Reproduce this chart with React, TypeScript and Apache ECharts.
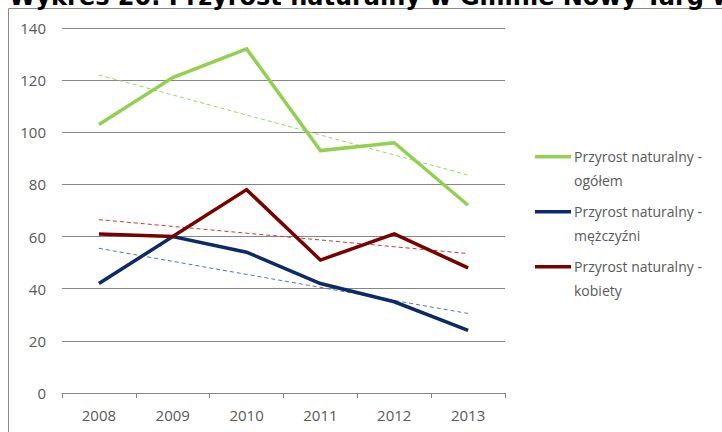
import React, { useEffect, useRef } from "react";
import * as echarts from "echarts";

const years = ["2008", "2009", "2010", "2011", "2012", "2013"];
const ogolem = [103, 121, 132, 93, 96, 72];
const mezczyzni = [42, 60, 54, 42, 35, 24];
const kobiety = [61, 60, 78, 51, 61, 48];
// trend line end values (2008, 2013)
const trendOgolem = [122, 83.6];
const trendMezczyzni = [55.5, 30.5];
const trendKobiety = [66.5, 53.5];

const names = [
  "Przyrost naturalny - ogółem",
  "Przyrost naturalny - mężczyźni",
  "Przyrost naturalny - kobiety",
];
const title = "Wykres 20. Przyrost naturalny w Gminie Nowy Targ w";

const FONT = "Open Sans";
const legendIcon = "path://M0,0H36V3.6H0Z M0,27H0.05V26.95H0Z";

export default function App() {
  const ref = useRef<HTMLDivElement>(null);
  useEffect(() => {
    if (!ref.current) return;
    const chart = echarts.init(ref.current, undefined, { renderer: "svg" });
    const trend = (name: string, vals: number[], color: string) => ({
      name,
      type: "line",
      data: [
        [years[0], vals[0]],
        [years[years.length - 1], vals[1]],
      ],
      symbol: "none",
      silent: true,
      z: 1,
      lineStyle: { color, width: 1, type: [4, 3] },
    });
    const main = (name: string, vals: number[], color: string) => ({
      name,
      type: "line",
      data: vals,
      symbol: "none",
      z: 3,
      itemStyle: { color },
      lineStyle: { color, width: 3.5, join: "miter" },
    });
    chart.setOption({
      animation: false,
      backgroundColor: "#ffffff",
      graphic: [
        {
          type: "rect",
          shape: { x: 8.5, y: 8.5, width: 800, height: 500 },
          style: { fill: "none", stroke: "#8a8a8a", lineWidth: 1 },
          z: 0,
        },
        {
          type: "text",
          x: 9,
          y: 9,
          z: 5,
          style: {
            text: title,
            font: "bold 24px 'DejaVu Sans'",
            fill: "#000000",
            verticalAlign: "bottom",
            align: "left",
          },
        },
      ],
      grid: { left: 62, top: 28, width: 443, height: 365 },
      xAxis: {
        type: "category",
        data: years,
        boundaryGap: true,
        axisLine: { lineStyle: { color: "#868686", width: 1 } },
        axisTick: { show: true, length: 5, lineStyle: { color: "#868686" } },
        axisLabel: { color: "#595959", fontFamily: FONT, fontSize: 15, margin: 14 },
      },
      yAxis: {
        type: "value",
        min: 0,
        max: 140,
        interval: 20,
        axisLine: { show: false },
        axisTick: { show: false },
        splitLine: { lineStyle: { color: "#868686", width: 1 } },
        axisLabel: { color: "#595959", fontFamily: FONT, fontSize: 15, margin: 16 },
      },
      legend: {
        orient: "vertical",
        left: 530,
        top: 140,
        data: names,
        icon: legendIcon,
        itemWidth: 36,
        itemHeight: 27,
        itemGap: 8,
        itemStyle: { borderWidth: 0 },
        formatter: (n: string) => n.replace(" - ", " -\n"),
        textStyle: {
          color: "#595959",
          fontFamily: FONT,
          fontSize: 14,
          lineHeight: 23.5,
          padding: [0, 0, 0, -2],
        },
      },
      series: [
        trend("t1", trendOgolem, "#9ed463"),
        trend("t2", trendMezczyzni, "#5577b0"),
        trend("t3", trendKobiety, "#e0302a"),
        main(names[0], ogolem, "#92d050"),
        main(names[1], mezczyzni, "#0c2a66"),
        main(names[2], kobiety, "#7a0000"),
      ],
    });
    return () => chart.dispose();
  }, []);
  return (
    <div
      ref={ref}
      style={{ position: "absolute", left: 0, top: 0, width: 722, height: 432 }}
    />
  );
}
